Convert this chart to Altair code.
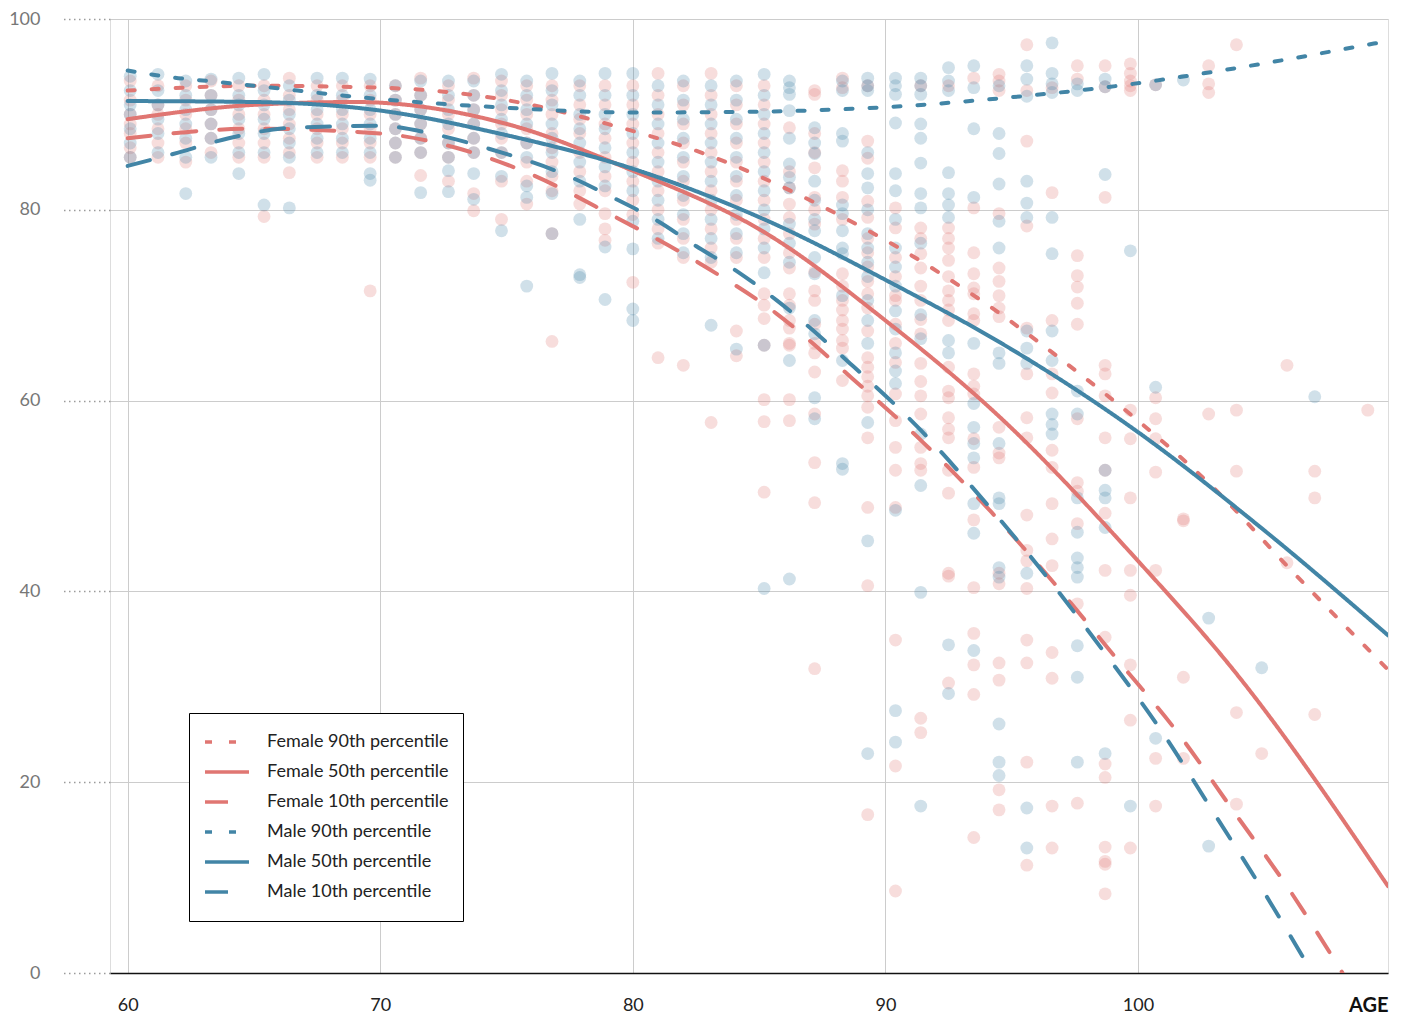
import altair as alt
import pandas as pd

# ---- scatter points: age column -> values ----
FEMALE_PTS = {
    60.1: [93.5, 91.5, 90, 89, 88, 86.5, 85.5],
    61.2: [93, 91, 90, 88.5, 87, 85.5],
    62.3: [93, 91.5, 90, 88.5, 87, 85],
    63.3: [93.5, 92, 90.5, 89, 87.5, 86],
    64.4: [93, 91.5, 90, 88.5, 87, 85.5],
    65.4: [93, 91.5, 90, 88.5, 87, 85.5, 79.3],
    66.4: [93.8, 92, 90.5, 89, 87.5, 86, 83.9],
    67.5: [93, 91.5, 90, 88.5, 87, 85.5],
    68.5: [93, 91.5, 90, 88.5, 87, 85.5],
    69.6: [93, 91.5, 90, 88.5, 87, 85.5, 71.5],
    70.6: [93, 91.5, 90, 88.5, 87, 85.5],
    71.6: [93.8, 92, 90.5, 89, 87.5, 86, 83.6],
    72.7: [93, 91.5, 90, 88.5, 87, 85.5, 83],
    73.7: [93.8, 92, 90.5, 89, 87.5, 86, 81.7, 79.9],
    74.8: [93.5, 92, 90.5, 89, 87.5, 86, 83, 79],
    75.8: [93, 91.5, 90, 88.5, 87, 85, 83, 80.6],
    76.8: [93, 91.5, 90, 88, 86.5, 85, 83.5, 82, 77.5, 66.2],
    77.9: [93, 91, 89.5, 88, 86, 84, 82, 80.6],
    78.9: [93, 91, 89, 87.5, 85.5, 83.5, 82, 79.6, 78, 76.8],
    80.0: [93, 91, 89, 87, 85, 83, 81, 79.5, 72.4],
    81.0: [94.3, 92, 90, 88, 86, 84, 82, 80, 78, 76.5, 64.5],
    82.0: [93, 91, 89, 87, 85, 83, 81, 79, 77, 75, 63.7],
    83.1: [94.3, 92, 90, 88, 86, 84, 82, 80, 78, 76, 74.5, 57.7],
    84.1: [93, 91, 89, 87, 85, 83, 81, 79, 77, 75, 67.3, 64.7],
    85.2: [93, 91, 89, 87, 85, 83, 81, 79, 77, 75, 71.2, 70, 68.6, 65.8, 60.1, 57.8, 50.4],
    86.2: [88.6, 84, 82.3, 80.6, 79.2, 77.5, 75.5, 73.9, 71.2, 70, 68.4, 67.6, 66, 65.8, 60.1, 57.9],
    87.2: [92.5, 92.1, 88, 86, 84.4, 81.3, 80, 78.5, 73.5, 71.5, 70.5, 68, 66, 65, 63, 58.6, 53.5, 49.3, 31.9],
    88.3: [93.8, 92.8, 84.1, 83, 81.3, 79, 73.3, 72, 70.5, 69.5, 68.4, 67.5, 66.3, 65.5, 62.1],
    89.3: [93, 87.2, 85.4, 80.9, 79.2, 77, 75.5, 74, 72.5, 71.2, 69.7, 67.3, 64.5, 63.5, 62.5, 61.5,
           60.5, 59.3, 56.1, 48.8, 40.6, 16.6],
    90.4: [80.2, 78.1, 75, 73, 71, 70.5, 68, 66, 64, 60.7, 57.9, 55.1, 52.7, 48.8, 34.9, 21.7, 8.6],
    91.4: [93, 78.1, 77, 75.4, 73.9, 72, 70.5, 68.5, 67, 63.9, 62, 60.5, 58.6, 55.1, 53.4, 52.7, 26.7, 25.2],
    92.5: [93, 78.1, 77, 76, 74.7, 73, 71.5, 70.5, 69.5, 68.4, 63.5, 61, 60.3, 58.2, 57, 56.1, 52.7,
           50.3, 41.9, 41.6, 30.4],
    93.5: [93.8, 80.2, 75.5, 73.3, 71.8, 71.2, 69.1, 68.4, 62.8, 61.5, 60.7, 56, 53, 47.5, 40.4, 35.6,
           32.3, 29.2, 14.2],
    94.5: [94.2, 93.5, 92.5, 79.6, 73.9, 72.5, 71, 69.7, 68.8, 57.2, 54.5, 54, 41.9, 40.8, 32.5, 30.7,
           19.2, 17.1],
    95.6: [97.3, 92.5, 87.2, 78.3, 67.6, 62.8, 58.2, 56.1, 48, 44.3, 43.2, 40.3, 34.9, 32.5, 22.1, 11.3],
    96.6: [92.8, 81.8, 68.4, 62.8, 60.8, 54.8, 53, 49.2, 45.5, 42.7, 33.6, 30.9, 17.5, 13.1],
    97.6: [95.1, 93.7, 75.2, 73.1, 71.9, 70.2, 68, 58.1, 51.4, 50.5, 47.1, 38.7, 17.8],
    98.7: [95.1, 92.9, 81.3, 63.7, 62.8, 60.5, 56.1, 52.7, 48.2, 42.2, 35.2, 21.9, 20.5, 13.2, 11.4,
           11.7, 8.3],
    99.7: [95.3, 94.3, 93.5, 93, 92.5, 59, 56, 49.8, 42.2, 39.6, 32.3, 26.5, 13.1],
    100.7: [93.1, 60.3, 58.1, 56, 52.5, 42.2, 22.5, 17.5],
    101.8: [47.4, 47.6, 31, 22.5],
    102.8: [95.1, 93.2, 92.3, 58.6],
    103.9: [97.3, 59, 52.6, 27.3, 17.7],
    104.9: [23],
    105.9: [63.7, 43],
    107.0: [52.6, 49.8, 27.1],
    109.1: [59],
}

MALE_PTS = {
    60.1: [94, 92.5, 91, 90, 88.5, 87, 85.5],
    61.2: [94.2, 92.5, 91, 89.5, 88, 86],
    62.3: [93.5, 92, 90.5, 89, 87.5, 85.5, 81.7],
    63.3: [93.7, 92, 90.5, 89, 87.5, 85.5],
    64.4: [93.8, 92, 91, 89.5, 88, 86, 83.8],
    65.4: [94.2, 92.5, 91, 89.5, 88, 86, 80.5],
    66.4: [93, 91.5, 90, 88.5, 87, 85.5, 80.2],
    67.5: [93.8, 92, 90.5, 89, 87.5, 86],
    68.5: [93.8, 92, 90.5, 89, 87.5, 86],
    69.6: [93.7, 92, 90.5, 89, 87.5, 86, 83.8, 83.1],
    70.6: [93, 91.5, 90, 88.5, 87, 85.5],
    71.6: [93.5, 92, 90.5, 89, 87.5, 86, 81.8],
    72.7: [93.5, 92, 90.5, 89, 87, 85.5, 84.1, 81.9],
    73.7: [93.5, 92, 90.5, 89, 87.5, 86, 83.8, 81.1],
    74.8: [94.2, 92.5, 91, 89.5, 88, 86, 83.5, 77.8],
    75.8: [93.5, 92, 90.5, 89, 87, 85.5, 82.5, 81.3, 72],
    76.8: [94.3, 92.5, 91, 89, 87.5, 86, 84, 81.7, 77.5],
    77.9: [93.5, 92, 90, 88.5, 87, 85, 83, 79, 72.9, 73.2],
    78.9: [94.3, 92, 90, 88.5, 86.5, 84.5, 82.5, 76.1, 70.6],
    80.0: [94.3, 92, 90, 88, 86, 84, 82, 78.8, 75.9, 69.6, 68.4],
    81.0: [93, 91, 89, 87, 85, 83, 81, 79, 77],
    82.0: [93.5, 91.5, 89.5, 87.5, 85.5, 83.5, 81.5, 79.5, 77.5, 75.5],
    83.1: [93, 91, 89, 87, 85, 83, 81, 79, 77, 75, 67.9],
    84.1: [93.5, 91.5, 89.5, 87.5, 85.5, 83.5, 81.5, 79.5, 77.5, 75.5, 65.4],
    85.2: [94.2, 92, 90, 88, 86, 84, 82, 80, 78, 76, 73.4, 65.8, 40.3],
    86.2: [93.5, 92.8, 92.1, 90.4, 87.5, 84.8, 83.4, 82.3, 78.5, 76.5, 74.5, 69.7, 64.2, 41.3],
    87.2: [88.6, 87, 85.9, 83, 81, 79, 77.8, 75, 73.3, 68.4, 67, 60.3, 58.1],
    88.3: [93.5, 92.5, 88, 87.2, 80.5, 79.6, 77.8, 76, 75.4, 71, 64.2, 53.4, 52.8],
    89.3: [93.8, 93, 92.5, 86, 83.8, 82.3, 80, 77.5, 76, 74.5, 73, 70.5, 68.4, 66, 57.7, 45.3, 23],
    90.4: [93.8, 93, 92.1, 89.1, 83.8, 82, 79, 76, 74, 72, 69.4, 67.5, 65, 63.1, 61.8, 48.5, 27.5, 24.2],
    91.4: [93.8, 93, 92.1, 89, 87.5, 84.9, 81.7, 80.2, 76.5, 69, 66.5, 56.5, 51.1, 39.9, 17.5],
    92.5: [94.9, 93.5, 92.5, 83.9, 81.7, 80.5, 79.2, 66.3, 65, 34.4, 29.3],
    93.5: [95.1, 92.8, 88.5, 81.3, 66, 59.7, 57.2, 55.5, 54, 49.2, 46.1, 33.8],
    94.5: [93, 88, 85.9, 82.7, 78.8, 76, 65, 63.9, 55.5, 49.8, 49.2, 42.5, 41.5, 26.1, 22.1, 20.7],
    95.6: [95.1, 93.7, 91.9, 83, 80.7, 79.2, 67.3, 65.5, 63.9, 41.9, 17.3, 13.1],
    96.6: [97.5, 94.3, 93.2, 92.3, 79.2, 75.4, 67.3, 64.2, 58.6, 57.5, 56.5],
    97.6: [92.5, 93.2, 61, 58.6, 49.8, 46.2, 43.5, 42.5, 41.5, 34.3, 31, 22.1],
    98.7: [93.7, 92.9, 83.7, 52.7, 50.6, 49.8, 46.7, 23],
    99.7: [75.7, 17.5],
    100.7: [93.1, 61.4, 24.6],
    101.8: [93.6],
    102.8: [37.2, 13.3],
    104.9: [32],
    107.0: [60.4],
}

# ---- percentile curves ----
SERIES = ["Female 90th percentile", "Female 50th percentile", "Female 10th percentile",
          "Male 90th percentile", "Male 50th percentile", "Male 10th percentile"]

F90_AGE = [60, 65, 70, 75, 79, 83.7, 85.6, 88.2, 90.6, 93.9, 97.7, 100, 102.9, 106, 109.9]
F90_VAL = [92.5, 93, 92.8, 91.5, 89, 85, 82.8, 79.4, 75.9, 70.3, 62.8, 57.9, 51.1, 42.4, 31.8]

F50_AGE = [60, 65, 69, 75, 80, 85.3, 90, 94.6, 100, 103.8, 109.9]
F50_VAL = [89.5, 91, 91.3, 89, 84.1, 77.5, 68.4, 58.1, 43.2, 31.7, 9.1]

F10_AGE = [60, 65, 70, 73, 75.9, 79.2, 82.7, 85.7, 88.7, 91.5, 94.2, 96.7, 99.2, 101.6, 103.8, 106, 108.1]
F10_VAL = [87.5, 88.5, 88, 86.5, 83.8, 79.4, 74.3, 69.1, 62.3, 55.6, 48.3, 40.8, 32.8, 25.1, 16.9, 8.7, 0]

M90_AGE = [60, 62, 63.2, 65, 70, 75, 80, 85.3, 87.9, 90.9, 94.6, 99.8, 103.3, 109.9]
M90_VAL = [94.6, 93.8, 93.5, 93, 91.6, 90.7, 90.2, 90.3, 90.5, 90.9, 91.7, 93.2, 94.6, 97.7]

M50_AGE = [60, 65, 70, 74.7, 80, 85.2, 90.4, 94.6, 100, 105, 109.9]
M50_VAL = [91.4, 91.3, 90.4, 88, 84.3, 79, 72.1, 66, 56.7, 46.4, 35.4]

M10_AGE = [60, 62, 64, 66.5, 70, 72, 74.3, 77.4, 79.2, 81, 82.5, 84.1, 85.7, 88.6, 91.4, 94,
           96.4, 98.7, 101, 103, 105.1, 106.9]
M10_VAL = [84.6, 86, 87.5, 88.6, 88.8, 88, 86.4, 83.6, 81.3, 78.8, 76.2, 73.6, 70.5, 63.9, 56.9,
           49.2, 41.5, 33.5, 25.1, 16.8, 8, 0]

RED = "#e07672"
BLUE = "#4285a6"

# ---- build tables ----
pt_rows = []
for age, vals in FEMALE_PTS.items():
    for v in vals:
        pt_rows.append({"age": age, "value": v, "sex": "Female"})
for age, vals in MALE_PTS.items():
    for v in vals:
        pt_rows.append({"age": age, "value": v, "sex": "Male"})
pts = pd.DataFrame(pt_rows)

curve_src = [(SERIES[0], F90_AGE, F90_VAL), (SERIES[1], F50_AGE, F50_VAL), (SERIES[2], F10_AGE, F10_VAL),
             (SERIES[3], M90_AGE, M90_VAL), (SERIES[4], M50_AGE, M50_VAL), (SERIES[5], M10_AGE, M10_VAL)]
ln_rows = []
for name, ages, vals in curve_src:
    for a, v in zip(ages, vals):
        ln_rows.append({"age": a, "value": v, "series": name})
lines = pd.DataFrame(ln_rows)

FONT = "Lato"
W, H = 1278, 954

x_scale = alt.Scale(domain=[59.3, 109.9], nice=False, zero=False)
y_scale = alt.Scale(domain=[0, 100], nice=False)

x_axis = alt.Axis(values=[60, 70, 80, 90, 100], grid=True, gridColor="#cccccc", gridWidth=1,
                  domain=True, domainColor="#111111", domainWidth=1.6, ticks=False,
                  labelFont=FONT, labelFontSize=18, labelColor="#222222", labelPadding=23,
                  title="AGE", titleFont=FONT, titleFontSize=20, titleFontWeight="bold",
                  titleColor="#111111", titleAlign="right", titleAnchor="end",
                  titleX=W, titleY=32, titleBaseline="middle")
y_axis = alt.Axis(values=[0, 20, 40, 60, 80, 100], grid=True, gridColor="#cccccc", gridWidth=1,
                  domain=False, ticks=True, tickSize=50, tickColor="#9a9a9a", tickWidth=1.3,
                  tickDash=[1.5, 3.5], labelFont=FONT, labelFontSize=18, labelColor="#777777",
                  labelPadding=20, title=None)

X = alt.X("age:Q", scale=x_scale, axis=x_axis)
Y = alt.Y("value:Q", scale=y_scale, axis=y_axis)

female = alt.Chart(pts).transform_filter(alt.datum.sex == "Female").mark_circle(
    size=165, opacity=0.25, color=RED).encode(x=X, y=Y)
male = alt.Chart(pts).transform_filter(alt.datum.sex == "Male").mark_circle(
    size=165, opacity=0.25, color=BLUE).encode(x=X, y=Y)

legend = alt.Legend(title=None, orient="none", legendX=79, legendY=694, strokeColor="#000000",
                    padding=14, symbolSize=1936, symbolStrokeWidth=3.5, symbolType="stroke",
                    labelFont=FONT, labelFontSize=18, labelColor="#222222", labelOffset=16,
                    clipHeight=30, rowPadding=0, fillColor="#ffffff", labelLimit=400)

curves = alt.Chart(lines).mark_line(strokeWidth=4, strokeCap="round", interpolate="monotone",
                                    clip=True).encode(
    x=X, y=Y,
    color=alt.Color("series:N", scale=alt.Scale(domain=SERIES, range=[RED, RED, RED, BLUE, BLUE, BLUE]),
                    legend=legend),
    strokeDash=alt.StrokeDash("series:N", scale=alt.Scale(domain=SERIES,
                              range=[[7, 17], [1, 0], [23, 23], [7, 17], [1, 0], [23, 23]]),
                              legend=legend),
    detail="series:N",
)

chart = alt.layer(female, male, curves).properties(
    width=W, height=H, padding={"top": 2, "left": 0, "right": 10, "bottom": 0}
).configure_view(stroke=None).configure(background="white")

chart.save("out.html", embed_options={"renderer": "svg", "actions": False})
